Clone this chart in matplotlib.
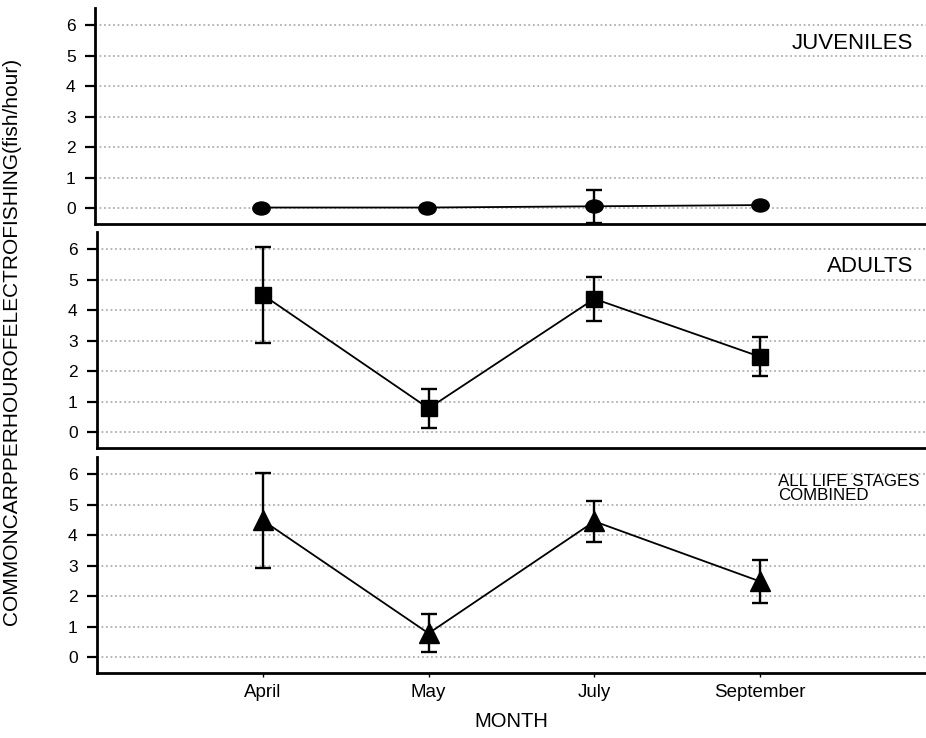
import matplotlib.pyplot as plt
from matplotlib.path import Path
from matplotlib.transforms import Affine2D

plt.rcParams["font.family"] = ["Liberation Sans", "DejaVu Sans"]

months = ["April", "May", "July", "September"]
yticks = [0, 1, 2, 3, 4, 5, 6]

juv_mean = [0.02, 0.02, 0.06, 0.10]
juv_err = [0.0, 0.0, 0.55, 0.0]

adult_mean = [4.50, 0.78, 4.37, 2.47]
adult_err = [1.58, 0.63, 0.72, 0.64]

all_mean = [4.48, 0.78, 4.45, 2.48]
all_err = [1.55, 0.62, 0.68, 0.69]

# slightly flattened dot for the juvenile series
oval = Path.unit_circle().transformed(Affine2D().scale(1.0, 0.75))

panels = [
    (juv_mean, juv_err, oval, 12.5),
    (adult_mean, adult_err, "s", 11),
    (all_mean, all_err, "^", 14),
]

fig = plt.figure(figsize=(9.26, 7.38), dpi=100)
H = 216 / 738
bottoms = [1 - 224 / 738, 1 - 448 / 738, 1 - 673 / 738]
lefts = [95 / 926, 97 / 926, 97 / 926]
x = [1, 2, 3, 4]

axes = []
for i, (mean, err, marker, ms) in enumerate(panels):
    ax = fig.add_axes([lefts[i], bottoms[i], 1 - lefts[i], H])
    axes.append(ax)
    for v in yticks:
        ax.axhline(v, color="#b0b0b0", linestyle=(0, (1, 1.5)), linewidth=1.3, zorder=0)
    ax.plot(x, mean, color="black", linewidth=1.3, zorder=2)
    ax.errorbar(x, mean, yerr=err, fmt="none", ecolor="black",
                elinewidth=1.7, capsize=5.5, capthick=1.7, zorder=3)
    ax.plot(x, mean, linestyle="none", marker=marker, markersize=ms,
            color="black", zorder=4)
    ax.set_xlim(0, 5)
    ax.set_ylim(-0.52, 6.56)
    ax.set_yticks(yticks)
    ax.tick_params(axis="y", direction="out", length=7, width=1.6,
                   labelsize=12.5, pad=7)
    for side in ("top", "right"):
        ax.spines[side].set_visible(False)
    for side in ("left", "bottom"):
        ax.spines[side].set_linewidth(2)
    if i < 2:
        ax.set_xticks([])
    else:
        ax.set_xticks(x)
        ax.set_xticklabels(months)
        ax.tick_params(axis="x", direction="out", length=3, width=1,
                       labelsize=13.5, pad=5)
        ax.set_xlabel("MONTH", fontsize=14.5, labelpad=8)

axes[0].text(0.985, 0.835, "JUVENILES", transform=axes[0].transAxes,
             ha="right", va="center", fontsize=16)
axes[1].text(0.985, 0.84, "ADULTS", transform=axes[1].transAxes,
             ha="right", va="center", fontsize=16)
axes[2].text(0.822, 0.855, "ALL LIFE STAGES\nCOMBINED", transform=axes[2].transAxes,
             ha="left", va="center", fontsize=12.2, linespacing=0.9)

fig.text(12 / 926, 1 - 341 / 738, "COMMONCARPPERHOUROFELECTROFISHING(fish/hour)",
         rotation=90, ha="center", va="center", fontsize=15)

fig.savefig("out.png", dpi=100)
